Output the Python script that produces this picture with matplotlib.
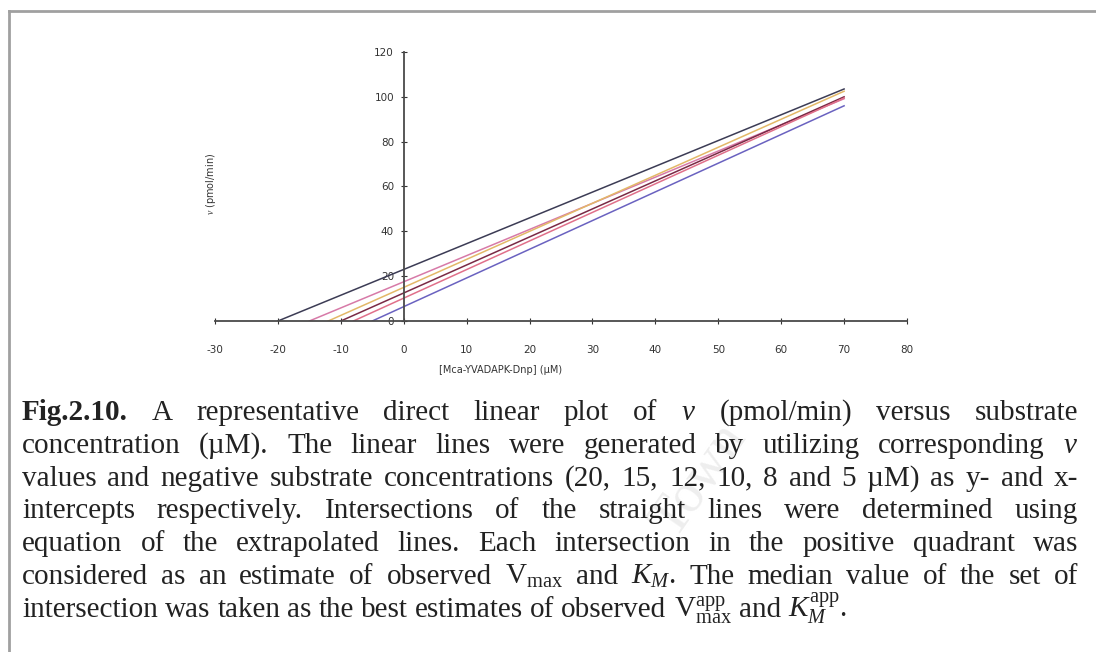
import matplotlib
matplotlib.use("Agg")
import matplotlib.pyplot as plt
from matplotlib.lines import Line2D

# direct linear plot: each line goes through (-S, 0) and (0, v)
substrate = [20, 15, 12, 10, 8, 5]          # uM
velocity = [23.0, 17.5, 15.0, 12.5, 10.2, 6.4]  # pmol/min
line_colors = ['#3c3c55', '#d77aa8', '#e3b868', '#7a2a45', '#e0708a', '#6a62c0']
x_end = 70

x_ticks = [-30, -20, -10, 0, 10, 20, 30, 40, 50, 60, 70, 80]
y_ticks = [0, 20, 40, 60, 80, 100, 120]

caption = [
    "Fig.2.10. A representative direct linear plot of $v$ (pmol/min) versus substrate",
    "concentration (\u00b5M). The linear lines were generated by utilizing corresponding $v$",
    "values and negative substrate concentrations (20, 15, 12, 10, 8 and 5 \u00b5M) as y- and x-",
    "intercepts respectively. Intersections of the straight lines were determined using",
    "equation of the extrapolated lines. Each intersection in the positive quadrant was",
    r"considered as an estimate of observed V$_{\mathrm{max}}$ and $K_M$. The median value of the set of",
    r"intersection was taken as the best estimates of observed V$_{\mathrm{max}}^{\mathrm{app}}$ and $K_M^{\mathrm{app}}$.",
]

plt.rcParams['axes.unicode_minus'] = False
plt.rcParams['mathtext.fontset'] = 'custom'
plt.rcParams['mathtext.rm'] = 'Liberation Serif'
plt.rcParams['mathtext.it'] = 'Liberation Serif:italic'
plt.rcParams['mathtext.bf'] = 'Liberation Serif:bold'

W, H = 1096, 652
fig = plt.figure(figsize=(W / 100, H / 100), dpi=100)
ax = fig.add_axes([215 / W, 1 - 321 / H, 692 / W, 269 / H])

for s, v, c in zip(substrate, velocity, line_colors):
    ax.plot([-s, 0, x_end], [0, v, v * (1 + x_end / s)], color=c, lw=1.1)

ax.set_xlim(-30, 80)
ax.set_ylim(0, 120)
ax.spines['top'].set_visible(False)
ax.spines['right'].set_visible(False)
ax.spines['left'].set_position(('data', 0))
for sp in ('left', 'bottom'):
    ax.spines[sp].set_color('#4a4a4a')
    ax.spines[sp].set_linewidth(1.3)
ax.set_xticks(x_ticks)
ax.set_yticks(y_ticks)
ax.tick_params(axis='x', direction='inout', length=4, pad=15, labelsize=7.5, colors='#333333')
ax.tick_params(axis='y', direction='inout', length=4, pad=5, labelsize=7.5, colors='#333333')
ax.set_xlabel('[Mca-YVADAPK-Dnp] (\u00b5M)', fontsize=7, color='#333333')
ax.xaxis.set_label_coords(0.412, -0.165)
ax.set_ylabel('$v$ (pmol/min)', fontsize=7, color='#333333')
ax.yaxis.set_label_coords(0.005, 0.51)

# frame of the scanned page
fig.add_artist(Line2D([9 / W, 1], [1 - 11 / H] * 2, transform=fig.transFigure, color='#a0a0a0', lw=2))
fig.add_artist(Line2D([9 / W] * 2, [0, 1 - 11 / H], transform=fig.transFigure, color='#a0a0a0', lw=2))

# faint watermark
fig.text(700 / W, 1 - 480 / H, 'Town', fontsize=40, rotation=55, color='#eeeeee',
         family='Liberation Serif', ha='center', va='center', zorder=0)

# justified caption
left, right = 22, 1078
base0, step = 420, 32.8
renderer = fig.canvas.get_renderer()
for i, line in enumerate(caption):
    words = line.split(' ')
    texts = []
    for j, w in enumerate(words):
        bold = (i == 0 and j == 0)
        t = fig.text(0, 0, w, fontsize=21, family='Liberation Serif', color='#222222',
                     fontweight='bold' if bold else 'normal', va='baseline', ha='left')
        texts.append(t)
    widths = [t.get_window_extent(renderer).width for t in texts]
    if i < len(caption) - 1:
        gap = (right - left - sum(widths)) / (len(words) - 1)
    else:
        gap = 7
    x = left
    y = 1 - (base0 + i * step) / H
    for t, wd in zip(texts, widths):
        t.set_position((x / W, y))
        x += wd + gap

fig.savefig('out.png', dpi=100)
